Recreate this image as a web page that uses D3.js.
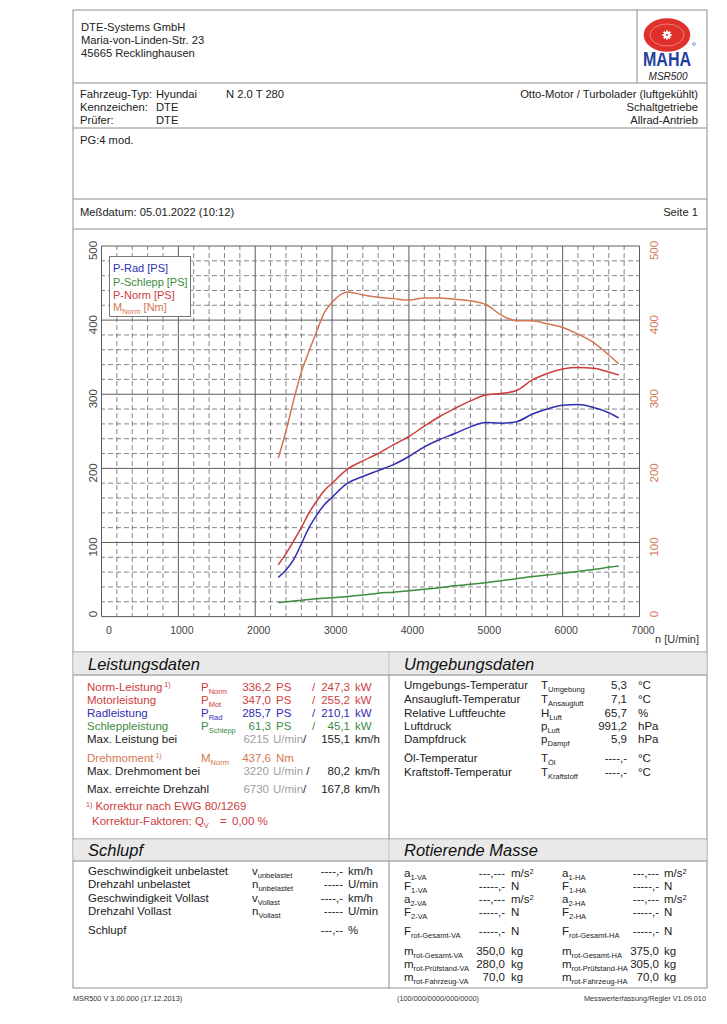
<!DOCTYPE html>
<html>
<head>
<meta charset="utf-8">
<script src="https://cdn.jsdelivr.net/npm/d3@7"></script>
<style>
  body { margin: 0; background: #fff; }
  svg { display: block; font-family: "Liberation Sans", Arial, sans-serif; }
</style>
</head>
<body>
<svg id="page" width="727" height="1024"></svg>
<script>
// curve data
const rpm      = [2300, 2400, 2500, 2600, 2700, 2800, 2900, 3000, 3200, 3400, 3600, 3800, 4000, 4200, 4400, 4600, 4800, 5000, 5200, 5400, 5600, 5800, 6000, 6200, 6400, 6600, 6730];
const pRad     = [53, 63, 77, 98, 120, 137, 151, 161, 180, 189, 197, 205, 216, 229, 239, 247, 256, 262, 261, 263, 273, 280, 285, 286, 282, 275, 268];
const pSchlepp = [19, 20, 21, 22, 23, 24, 24.8, 25.5, 27, 29, 31.5, 33, 35, 37, 39, 41.5, 43.5, 45.8, 48.5, 51, 54, 56, 58.5, 61, 63.5, 66.5, 68.4];
const pNorm    = [70, 85, 102, 120, 140, 156, 170, 180, 199, 210, 220, 232, 243, 257, 270, 281, 291, 299, 301, 305, 319, 328, 334, 336, 335, 330, 326];
const mNorm    = [214, 250, 292, 330, 358, 385, 410, 424, 438, 434, 431, 429, 427, 430, 430, 428, 426, 421, 407, 399, 399, 395, 390, 381, 370, 353, 341];

const xTicks = [0, 1000, 2000, 3000, 4000, 5000, 6000, 7000];
const yTicks = [0, 100, 200, 300, 400, 500];

const cRad = '#2e2eb2', cSchlepp = '#3d8c3d', cNorm = '#cd3d3d', cM = '#d47650', cGray = '#a0a0a0', cText = '#222';
const borderCol = '#8c8c8c';

const svg = d3.select('#page');

// small text helpers
const txt = (x, y, s, o = {}) => svg.append('text')
  .attr('x', x).attr('y', y)
  .attr('font-size', o.size || 11.5)
  .attr('fill', o.color || cText)
  .attr('text-anchor', o.anchor || 'start')
  .attr('font-style', o.italic ? 'italic' : null)
  .text(s);

const sym = (x, y, main, sub, color, size = 11.5) => {
  const t = svg.append('text').attr('x', x).attr('y', y).attr('font-size', size).attr('fill', color || cText);
  t.append('tspan').text(main);
  if (sub) t.append('tspan').attr('font-size', 7.5).attr('dy', 3).text(sub);
  return t;
};

const hline = (x1, x2, y) => svg.append('line').attr('x1', x1).attr('x2', x2).attr('y1', y).attr('y2', y)
  .attr('stroke', borderCol).attr('stroke-width', 1);
const vline = (x, y1, y2) => svg.append('line').attr('x1', x).attr('x2', x).attr('y1', y1).attr('y2', y2)
  .attr('stroke', borderCol).attr('stroke-width', 1);

// page frame
const L = 73, R = 707;
hline(L, R, 10); hline(L, R, 83); hline(L, R, 128); hline(L, R, 199); hline(L, R, 229);
hline(L, R, 652); hline(L, R, 839); hline(L, R, 988);
vline(L, 10, 988); vline(R, 10, 988); vline(637, 10, 83); vline(389, 652, 988);

// header
txt(81, 31, 'DTE-Systems GmbH', { size: 11.2 });
txt(81, 44, 'Maria-von-Linden-Str. 23', { size: 11.2 });
txt(81, 57, '45665 Recklinghausen', { size: 11.2 });

// logo
const logo = svg.append('g');
logo.append('text').attr('x', 667).attr('y', 66).attr('text-anchor', 'middle')
  .attr('font-size', 20).attr('font-weight', 'bold').attr('fill', '#1f3f9f')
  .attr('textLength', 48).attr('lengthAdjust', 'spacingAndGlyphs').text('MAHA');
logo.append('ellipse').attr('cx', 667).attr('cy', 35).attr('rx', 24).attr('ry', 17.5)
  .attr('fill', '#e0302c').attr('stroke', '#fff').attr('stroke-width', 1.5);
logo.append('ellipse').attr('cx', 667).attr('cy', 35).attr('rx', 17).attr('ry', 11)
  .attr('fill', 'none').attr('stroke', '#f6b0a8').attr('stroke-width', 0.6);
logo.append('circle').attr('cx', 667).attr('cy', 35).attr('r', 3.2).attr('fill', '#fff');
d3.range(8).forEach(i => {
  logo.append('rect').attr('x', 666).attr('y', 30.4).attr('width', 2).attr('height', 2.2).attr('fill', '#fff')
    .attr('transform', `rotate(${i * 45},667,35)`);
});
logo.append('circle').attr('cx', 667).attr('cy', 35).attr('r', 1.1).attr('fill', '#e0302c');
logo.append('circle').attr('cx', 694).attr('cy', 44).attr('r', 1.4).attr('fill', 'none').attr('stroke', '#1f3f9f').attr('stroke-width', 0.5);
txt(668, 80, 'MSR500', { size: 10, anchor: 'middle', italic: true });

// vehicle info
txt(80, 98, 'Fahrzeug-Typ:', { size: 11.2 }); txt(156, 98, 'Hyundai', { size: 11.2 }); txt(226, 98, 'N 2.0 T 280', { size: 11.2 });
txt(80, 111, 'Kennzeichen:', { size: 11.2 }); txt(156, 111, 'DTE', { size: 11.2 });
txt(80, 124, 'Prüfer:', { size: 11.2 }); txt(156, 124, 'DTE', { size: 11.2 });
txt(698, 98, 'Otto-Motor / Turbolader (luftgekühlt)', { size: 11.2, anchor: 'end' });
txt(698, 111, 'Schaltgetriebe', { size: 11.2, anchor: 'end' });
txt(698, 124, 'Allrad-Antrieb', { size: 11.2, anchor: 'end' });

txt(80, 144, 'PG:4 mod.', { size: 11.2 });
txt(80, 216, 'Meßdatum: 05.01.2022 (10:12)', { size: 11.2 });
txt(698, 216, 'Seite 1', { size: 11.2, anchor: 'end' });

// ---- chart ----
const x = d3.scaleLinear().domain([0, 7000]).range([101.5, 639.5]);
const y = d3.scaleLinear().domain([0, 500]).range([616.6, 246]);

const grid = svg.append('g');
d3.range(0, 7001, 200).forEach(v => {
  const major = v % 1000 === 0;
  grid.append('line').attr('x1', x(v)).attr('x2', x(v)).attr('y1', y(0)).attr('y2', y(500))
    .attr('stroke', major ? '#5c5c5c' : '#666').attr('stroke-width', major ? 1 : 0.8)
    .attr('stroke-dasharray', major ? null : '5,3').attr('stroke-dashoffset', 1.5);
});
d3.range(0, 501, 20).forEach(v => {
  const major = v % 100 === 0;
  grid.append('line').attr('x1', x(0)).attr('x2', x(7000)).attr('y1', y(v)).attr('y2', y(v))
    .attr('stroke', major ? '#5c5c5c' : '#666').attr('stroke-width', major ? 1 : 0.8)
    .attr('stroke-dasharray', major ? null : '5,3').attr('stroke-dashoffset', 1.5);
});

// axes (labels only)
const gx = svg.append('g').attr('transform', `translate(0,${y(0)})`)
  .call(d3.axisBottom(x).tickValues(xTicks).tickSize(0).tickFormat(d3.format('d')));
gx.select('.domain').remove();
gx.selectAll('text').attr('y', 17.5).attr('dy', 0).attr('dx', d => d === 0 ? 7 : 3)
  .attr('font-size', 10.5).attr('fill', '#444').attr('font-family', 'Liberation Sans, Arial, sans-serif');

const gyl = svg.append('g').attr('transform', `translate(${x(0)},0)`)
  .call(d3.axisLeft(y).tickValues(yTicks).tickSize(0));
gyl.select('.domain').remove();
gyl.selectAll('text').attr('text-anchor', 'middle').attr('dy', 0)
  .attr('transform', 'rotate(-90)').attr('x', d => d === 0 ? 3 : -4).attr('y', -4.5)
  .attr('font-size', 11.5).attr('fill', '#444').attr('font-family', 'Liberation Sans, Arial, sans-serif');

const gyr = svg.append('g').attr('transform', `translate(${x(7000)},0)`)
  .call(d3.axisRight(y).tickValues(yTicks).tickSize(0));
gyr.select('.domain').remove();
gyr.selectAll('text').attr('text-anchor', 'middle').attr('dy', 0)
  .attr('transform', 'rotate(-90)').attr('x', d => d === 0 ? 3 : -4).attr('y', 18.5)
  .attr('font-size', 11.5).attr('fill', cM).attr('font-family', 'Liberation Sans, Arial, sans-serif');

txt(655, 643, 'n [U/min]', { size: 11, color: '#333' });

// curves
const series = [
  { vals: pSchlepp, color: cSchlepp },
  { vals: pRad, color: cRad },
  { vals: pNorm, color: cNorm },
  { vals: mNorm, color: cM }
];
const line = d3.line().x((d, i) => x(rpm[i])).y(d => y(d)).curve(d3.curveMonotoneX);
series.forEach(s => {
  svg.append('path').attr('d', line(s.vals)).attr('fill', 'none')
    .attr('stroke', s.color).attr('stroke-width', 1.5);
});

// legend
svg.append('rect').attr('x', 109.5).attr('y', 256.5).attr('width', 81).attr('height', 60)
  .attr('fill', '#fff').attr('stroke', '#777').attr('stroke-width', 1);
txt(113, 272, 'P-Rad [PS]', { size: 11, color: cRad });
txt(113, 285.5, 'P-Schlepp [PS]', { size: 11, color: cSchlepp });
txt(113, 299, 'P-Norm [PS]', { size: 11, color: cNorm });
const lm = sym(113, 311, 'M', 'Norm', cM, 11);
lm.append('tspan').attr('dy', -3).text(' [Nm]');

// ---- section headers ----
const band = (x1, x2, y1, y2, title, tx) => {
  svg.append('rect').attr('x', x1 + 0.5).attr('y', y1 + 0.5).attr('width', x2 - x1 - 1).attr('height', y2 - y1)
    .attr('fill', '#e9e9e9');
  hline(x1, x2, y2);
  txt(tx, y2 - 5, title, { size: 16.5, italic: true, color: '#111' });
};
band(L, 389, 652, 675, 'Leistungsdaten', 88);
band(389, R, 652, 675, 'Umgebungsdaten', 404);
band(L, 389, 839, 861, 'Schlupf', 88);
band(389, R, 839, 861, 'Rotierende Masse', 404);

// ---- Leistungsdaten ----
const perfRows = [
  { label: 'Norm-Leistung', sup: '1)', color: cNorm, s: 'P', sub: 'Norm', v1: '336,2', u1: 'PS', v2: '247,3', u2: 'kW', cy: 687 },
  { label: 'Motorleistung', color: cNorm, s: 'P', sub: 'Mot', v1: '347,0', u1: 'PS', v2: '255,2', u2: 'kW', cy: 700 },
  { label: 'Radleistung', color: cRad, s: 'P', sub: 'Rad', v1: '285,7', u1: 'PS', v2: '210,1', u2: 'kW', cy: 713 },
  { label: 'Schleppleistung', color: cSchlepp, s: 'P', sub: 'Schlepp', v1: '61,3', u1: 'PS', v2: '45,1', u2: 'kW', cy: 726 }
];
perfRows.forEach(r => {
  const b = r.cy + 4;
  const t = txt(87, b, r.label, { color: r.color });
  if (r.sup) t.append('tspan').attr('font-size', 7).attr('dy', -4).text(' ' + r.sup);
  sym(201, b, r.s, r.sub, r.color);
  txt(271, b, r.v1, { anchor: 'end', color: r.color });
  txt(276, b, r.u1, { color: r.color });
  txt(312, b, '/', { color: r.color });
  txt(350, b, r.v2, { anchor: 'end', color: r.color });
  txt(355, b, r.u2, { color: r.color });
});

const atRows = [
  { label: 'Max. Leistung bei', n: '6215', u: 'U/min', v: '155,1', cy: 739 },
  { label: 'Max. Drehmoment bei', n: '3220', u: 'U/min ', v: '80,2', cy: 771 },
  { label: 'Max. erreichte Drehzahl', n: '6730', u: 'U/min', v: '167,8', cy: 789 }
];
atRows.forEach(r => {
  const b = r.cy + 4;
  txt(87, b, r.label);
  txt(269, b, r.n, { anchor: 'end', color: cGray });
  const t = txt(273, b, r.u, { color: cGray });
  t.attr('xml:space', 'preserve');
  t.append('tspan').attr('fill', cText).text('/');
  txt(350, b, r.v, { anchor: 'end' });
  txt(355, b, 'km/h');
});

const dm = txt(87, 762, 'Drehmoment', { color: cM });
dm.append('tspan').attr('font-size', 7).attr('dy', -4).text(' 1)');
sym(201, 762, 'M', 'Norm', cM);
txt(271, 762, '437,6', { anchor: 'end', color: cM });
txt(276, 762, 'Nm', { color: cM });

const fn = svg.append('text').attr('x', 86).attr('y', 810).attr('font-size', 11.5).attr('fill', cNorm);
fn.append('tspan').attr('font-size', 7).attr('dy', -3).text('1)');
fn.append('tspan').attr('dy', 3).text(' Korrektur nach EWG 80/1269');
sym(92, 825, 'Korrektur-Faktoren: Q', 'V', cNorm);
txt(220, 825, '=', { color: cNorm });
txt(232, 825, '0,00 %', { color: cNorm });

// ---- Umgebungsdaten ----
const envRows = [
  ['Umgebungs-Temperatur', 'T', 'Umgebung', '5,3', '°C', 685],
  ['Ansaugluft-Temperatur', 'T', 'Ansaugluft', '7,1', '°C', 699],
  ['Relative Luftfeuchte', 'H', 'Luft', '65,7', '%', 712.5],
  ['Luftdruck', 'p', 'Luft', '991,2', 'hPa', 726],
  ['Dampfdruck', 'p', 'Dampf', '5,9', 'hPa', 739],
  ['Öl-Temperatur', 'T', 'Öl', '----,-', '°C', 758],
  ['Kraftstoff-Temperatur', 'T', 'Kraftstoff', '----,-', '°C', 771.5]
];
envRows.forEach(([label, s, sub, v, u, cy]) => {
  const b = cy + 4;
  txt(404, b, label);
  sym(541, b, s, sub);
  txt(627, b, v, { anchor: 'end' });
  txt(638, b, u);
});

// ---- Schlupf ----
const slipRows = [
  ['Geschwindigkeit unbelastet', 'v', 'unbelastet', '----,-', 'km/h', 871],
  ['Drehzahl unbelastet', 'n', 'unbelastet', '-----', 'U/min', 884],
  ['Geschwindigkeit Vollast', 'v', 'Vollast', '----,-', 'km/h', 898],
  ['Drehzahl Vollast', 'n', 'Vollast', '-----', 'U/min', 911],
  ['Schlupf', '', '', '---,--', '%', 930]
];
slipRows.forEach(([label, s, sub, v, u, cy]) => {
  const b = cy + 4;
  txt(88, b, label);
  if (s) sym(252, b, s, sub);
  txt(343, b, v, { anchor: 'end' });
  txt(348, b, u);
});

// ---- Rotierende Masse ----
const massRows = [
  ['a', '1-VA', '---,---', 'm/s', '1-HA', '---,---', 873],
  ['F', '1-VA', '-----,-', 'N', '1-HA', '-----,-', 886],
  ['a', '2-VA', '---,---', 'm/s', '2-HA', '---,---', 899],
  ['F', '2-VA', '-----,-', 'N', '2-HA', '-----,-', 912],
  ['F', 'rot-Gesamt-VA', '-----,-', 'N', 'rot-Gesamt-HA', '-----,-', 931],
  ['m', 'rot-Gesamt-VA', '350,0', 'kg', 'rot-Gesamt-HA', '375,0', 951],
  ['m', 'rot-Prüfstand-VA', '280,0', 'kg', 'rot-Prüfstand-HA', '305,0', 964],
  ['m', 'rot-Fahrzeug-VA', '70,0', 'kg', 'rot-Fahrzeug-HA', '70,0', 977]
];
const unit = (x0, b, u) => {
  const t = txt(x0, b, u);
  if (u === 'm/s') t.append('tspan').attr('font-size', 7.5).attr('dy', -3).text('2');
};
massRows.forEach(([s, subL, vL, u, subR, vR, cy]) => {
  const b = cy + 4;
  sym(404, b, s, subL);
  txt(505, b, vL, { anchor: 'end' });
  unit(511, b, u);
  sym(562, b, s, subR);
  txt(659, b, vR, { anchor: 'end' });
  unit(664, b, u);
});

// footer
txt(73, 1001, 'MSR500 V 3.00.000 (17.12.2013)', { size: 7.3, color: '#333' });
txt(397, 1001, '(100/000/0000/000/0000)', { size: 7.3, color: '#333' });
txt(706, 1001, 'Messwerterfassung/Regler V1.09.010', { size: 7.3, color: '#333', anchor: 'end' });
</script>
</body>
</html>
